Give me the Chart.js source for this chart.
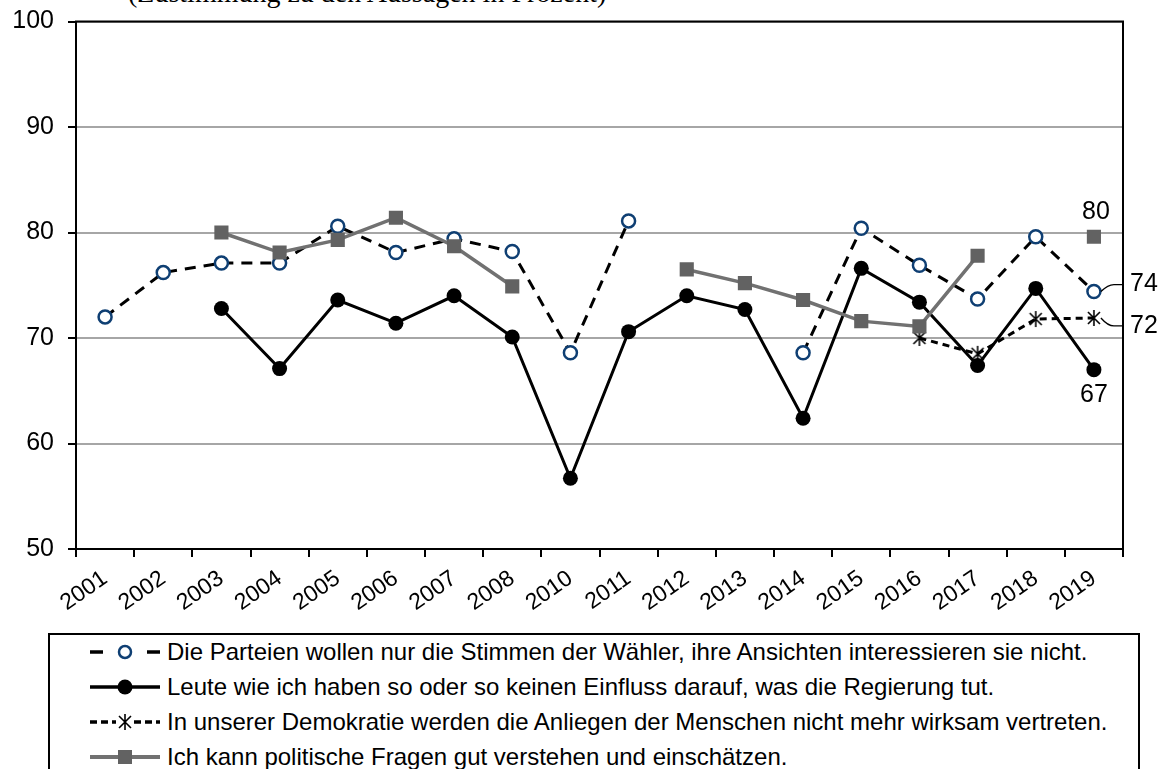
<!DOCTYPE html>
<html>
<head>
<meta charset="utf-8">
<script src="https://cdn.jsdelivr.net/npm/chart.js@4.4.1/dist/chart.umd.min.js"></script>
<style>
  html, body { margin: 0; padding: 0; background: #fff; }
  body { width: 1168px; height: 769px; position: relative; overflow: hidden; font-family: "Liberation Sans", Arial, sans-serif; }
  #wrap { position: absolute; left: 0; top: -5px; width: 1168px; height: 774px; }
  #subtitle { position: absolute; left: 128px; top: -21px; font-family: "Liberation Serif", "Times New Roman", serif; font-size: 28px; line-height: 28px; white-space: nowrap; }
  #legend { position: absolute; left: 48px; top: 633px; width: 1092px; height: 160px; border: 2px solid #000; box-sizing: border-box; background: #fff; }
  .row { position: absolute; left: 40px; height: 34px; display: flex; align-items: center; font-size: 24px; white-space: nowrap; color: #000; }
  .row svg { margin-right: 7px; }
</style>
</head>
<body>
<div id="subtitle">(Zustimmung zu den Aussagen in Prozent)</div>
<div id="wrap"><canvas id="chart" width="1168" height="774"></canvas></div>
<div id="legend"></div>

<script>
// Data (2009 has no survey)
const years = ['2001', '2002', '2003', '2004', '2005', '2006', '2007', '2008', '2010', '2011', '2012', '2013', '2014', '2015', '2016', '2017', '2018', '2019'];
const parteien = [72.0, 76.2, 77.1, 77.1, 80.6, 78.1, 79.4, 78.2, 68.6, 81.1, null, null, 68.6, 80.4, 76.9, 73.7, 79.6, 74.4];
const einfluss = [null, null, 72.8, 67.1, 73.6, 71.4, 74.0, 70.1, 56.7, 70.6, 74.0, 72.7, 62.4, 76.6, 73.4, 67.4, 74.7, 67.0];
const demokratie = [null, null, null, null, null, null, null, null, null, null, null, null, null, null, 70.0, 68.5, 71.8, 71.9];
const verstehen = [null, null, 80.0, 78.1, 79.3, 81.4, 78.7, 74.9, null, null, 76.5, 75.2, 73.6, 71.6, 71.1, 77.8, null, 79.6];
const yTicks = [50, 60, 70, 80, 90, 100];

const legendTexts = [
  'Die Parteien wollen nur die Stimmen der Wähler, ihre Ansichten interessieren sie nicht.',
  'Leute wie ich haben so oder so keinen Einfluss darauf, was die Regierung tut.',
  'In unserer Demokratie werden die Anliegen der Menschen nicht mehr wirksam vertreten.',
  'Ich kann politische Fragen gut verstehen und einschätzen.'
];

const BLUE = '#0f3f73';
const GREY_LINE = '#717171';
const GREY_MARK = '#626262';
const FONT = '"Liberation Sans", Arial, sans-serif';

// asterisk marker (vertical bar + x)
function makeAsterisk() {
  const c = document.createElement('canvas');
  c.width = 20; c.height = 20;
  const g = c.getContext('2d');
  g.strokeStyle = '#000';
  g.lineWidth = 1.6;
  g.beginPath();
  g.moveTo(10, 2); g.lineTo(10, 18);
  g.moveTo(4, 4); g.lineTo(16, 16);
  g.moveTo(16, 4); g.lineTo(4, 16);
  g.stroke();
  return c;
}
const asterisk = makeAsterisk();

// border box + end labels
const extras = {
  id: 'extras',
  afterDatasetsDraw(chart) {
    const { ctx, chartArea: a } = chart;
    ctx.save();
    ctx.strokeStyle = '#000';
    ctx.lineWidth = 2;
    ctx.strokeRect(a.left, a.top, a.right - a.left, a.bottom - a.top);

    const last = years.length - 1;
    const pt = (i) => chart.getDatasetMeta(i).data[last];
    ctx.fillStyle = '#000';
    ctx.font = '25px ' + FONT;
    ctx.textBaseline = 'middle';

    // 80 above the square, 67 below the dot
    ctx.textAlign = 'center';
    let p = pt(3);
    ctx.fillText(Math.round(verstehen[last]), p.x + 2, p.y - 25);
    p = pt(1);
    ctx.fillText(Math.round(einfluss[last]), p.x, p.y + 25);

    // 74 and 72 outside on the right, with leader lines
    ctx.textAlign = 'left';
    ctx.lineWidth = 1.3;
    p = pt(0);
    let ly = p.y - 7;
    ctx.beginPath();
    ctx.moveTo(p.x + 7, p.y);
    ctx.quadraticCurveTo(p.x + 14, ly, p.x + 20, ly);
    ctx.lineTo(a.right, ly);
    ctx.stroke();
    ctx.fillText(Math.round(parteien[last]), a.right + 7, ly);

    p = pt(2);
    ly = p.y + 8;
    ctx.beginPath();
    ctx.moveTo(p.x + 7, p.y);
    ctx.quadraticCurveTo(p.x + 14, ly, p.x + 20, ly);
    ctx.lineTo(a.right, ly);
    ctx.stroke();
    ctx.fillText(Math.round(demokratie[last]), a.right + 7, ly);
    ctx.restore();
  }
};

new Chart(document.getElementById('chart'), {
  type: 'line',
  data: {
    labels: years,
    datasets: [
      {
        data: parteien,
        borderColor: '#000',
        borderWidth: 3,
        borderDash: [11, 8],
        pointStyle: 'circle',
        pointRadius: 6.5,
        pointBorderWidth: 2.5,
        pointBorderColor: BLUE,
        pointBackgroundColor: '#fff',
        order: 3
      },
      {
        data: einfluss,
        borderColor: '#000',
        borderWidth: 3,
        pointStyle: 'circle',
        pointRadius: 7.5,
        pointBorderWidth: 0,
        pointBackgroundColor: '#000',
        order: 2
      },
      {
        data: demokratie,
        borderColor: '#000',
        borderWidth: 3,
        borderDash: [7, 5],
        pointStyle: asterisk,
        order: 1
      },
      {
        data: verstehen,
        borderColor: GREY_LINE,
        borderWidth: 3.5,
        pointStyle: 'rect',
        pointRadius: 10,
        pointBorderWidth: 0,
        pointBackgroundColor: GREY_MARK,
        order: 0
      }
    ]
  },
  options: {
    responsive: false,
    animation: false,
    events: [],
    spanGaps: false,
    elements: { line: { tension: 0 } },
    layout: { padding: { top: 22, right: 45, left: 0, bottom: 0 } },
    plugins: { legend: { display: false }, tooltip: { enabled: false } },
    scales: {
      x: {
        offset: true,
        grid: { offset: true, drawOnChartArea: false, tickLength: 8, tickColor: '#000', lineWidth: 2 },
        border: { display: false },
        ticks: { autoSkip: false, minRotation: 35, maxRotation: 35, color: '#000', padding: 8, font: { size: 23, family: FONT } },
        afterFit(s) { s.height = 220; }
      },
      y: {
        min: 50,
        max: 100,
        afterBuildTicks(s) { s.ticks = yTicks.map(v => ({ value: v })); },
        grid: { color: '#a6a6a6', lineWidth: 2, tickColor: '#000', tickLength: 8 },
        border: { display: false },
        ticks: { color: '#000', padding: 14, font: { size: 25, family: FONT, lineHeight: 1 } },
        afterFit(s) { s.width = 76; }
      }
    }
  },
  plugins: [extras]
});

// legend box
const symbols = [
  `<line x1="0" y1="12" x2="13" y2="12" stroke="#000" stroke-width="3.5"/>
   <circle cx="35" cy="12" r="6" fill="#fff" stroke="${BLUE}" stroke-width="2.5"/>
   <line x1="57" y1="12" x2="70" y2="12" stroke="#000" stroke-width="3.5"/>`,
  `<line x1="0" y1="12" x2="70" y2="12" stroke="#000" stroke-width="3.5"/>
   <circle cx="35" cy="12" r="7.5" fill="#000"/>`,
  `<line x1="0" y1="12" x2="26" y2="12" stroke="#000" stroke-width="3.5" stroke-dasharray="7,4"/>
   <line x1="44" y1="12" x2="70" y2="12" stroke="#000" stroke-width="3.5" stroke-dasharray="7,4"/>
   <path d="M35 4 V20 M29 6 L41 18 M41 6 L29 18" stroke="#000" stroke-width="1.6"/>`,
  `<line x1="0" y1="12" x2="70" y2="12" stroke="${GREY_LINE}" stroke-width="4"/>
   <rect x="28" y="5" width="14" height="14" fill="${GREY_MARK}"/>`
];
const legend = document.getElementById('legend');
legendTexts.forEach((t, i) => {
  const row = document.createElement('div');
  row.className = 'row';
  row.style.top = (i * 35) + 'px';
  row.innerHTML = `<svg width="70" height="24">${symbols[i]}</svg><span>${t}</span>`;
  legend.appendChild(row);
});
</script>
</body>
</html>
